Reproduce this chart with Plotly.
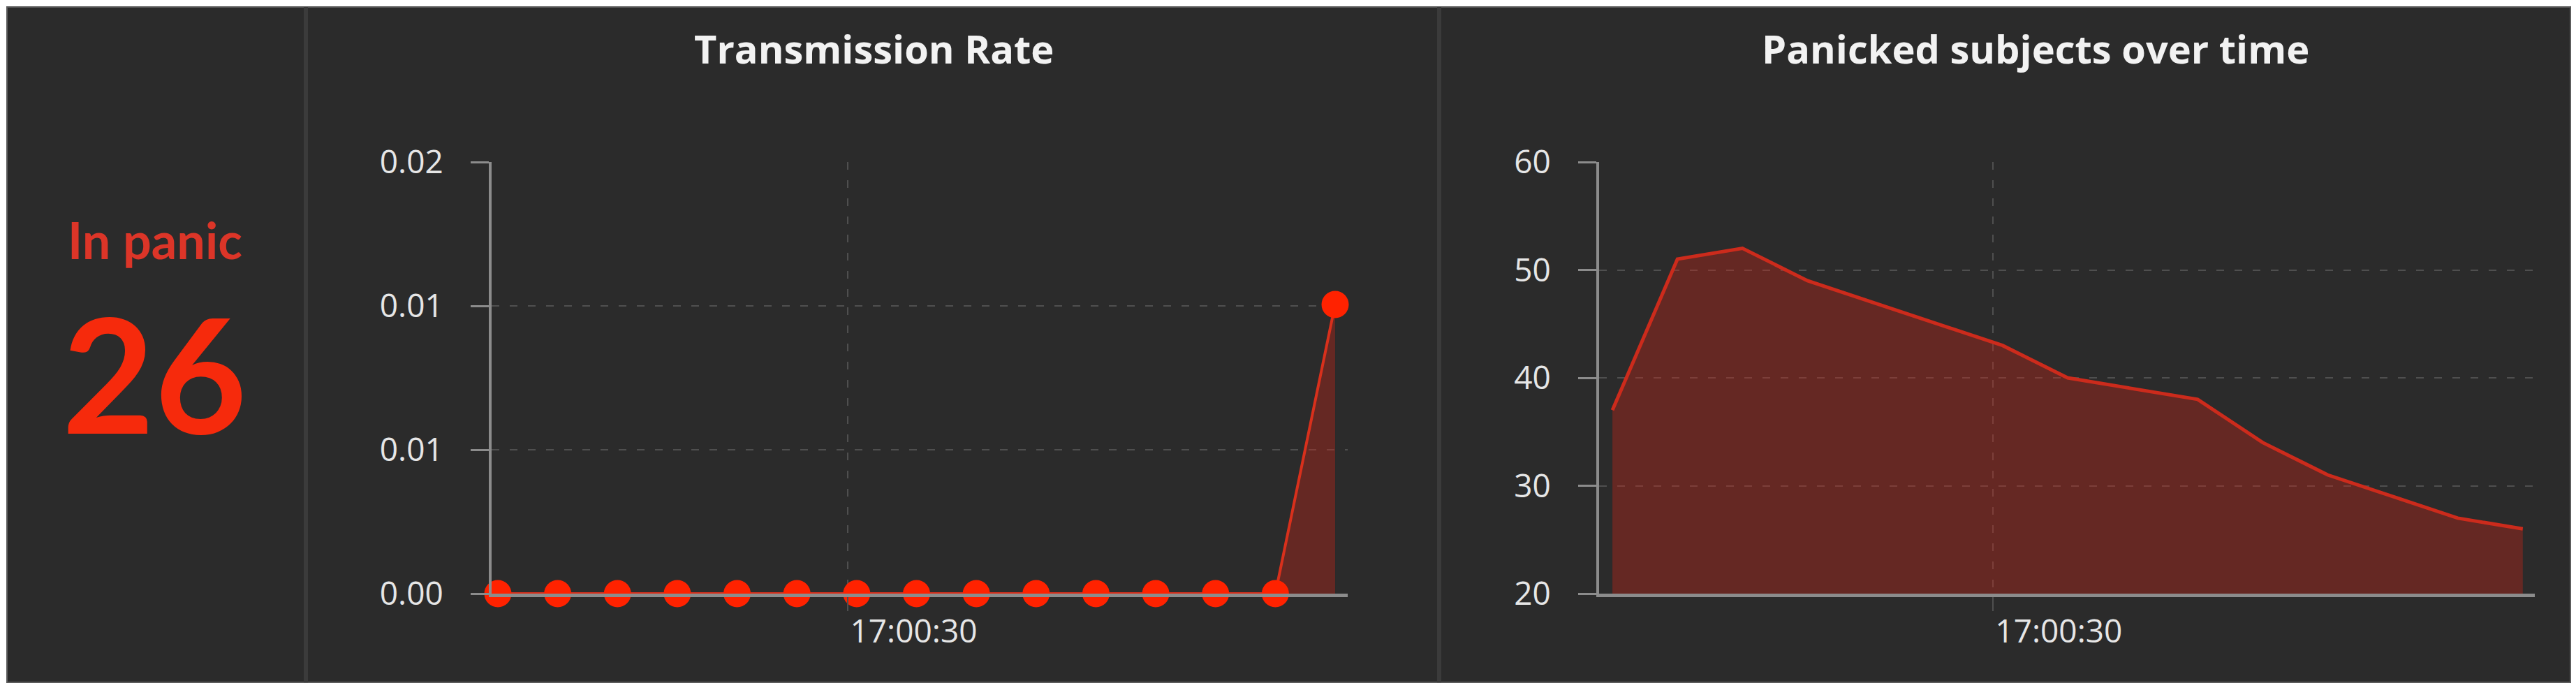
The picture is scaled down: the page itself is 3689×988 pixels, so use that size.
import plotly.graph_objects as go

W, H = 3689, 988

# sample times (2 s apart) shared by both charts
times = [
    "2024-05-10 17:00:18.3", "2024-05-10 17:00:20.3", "2024-05-10 17:00:22.3",
    "2024-05-10 17:00:24.3", "2024-05-10 17:00:26.3", "2024-05-10 17:00:28.3",
    "2024-05-10 17:00:30.3", "2024-05-10 17:00:32.3", "2024-05-10 17:00:34.3",
    "2024-05-10 17:00:36.3", "2024-05-10 17:00:38.3", "2024-05-10 17:00:40.3",
    "2024-05-10 17:00:42.3", "2024-05-10 17:00:44.3", "2024-05-10 17:00:46.3",
]
transmission_rate = [0, 0, 0, 0, 0, 0, 0, 0, 0, 0, 0, 0, 0, 0, 0.0134]
panicked = [37, 51, 52, 49, 47, 45, 43, 40, 39, 38, 34, 31, 29, 27, 26]

rate_ticks = [0, 0.02 / 3, 0.04 / 3, 0.02]
rate_tick_labels = ["0.00", "0.01", "0.01", "0.02"]
panic_ticks = [20, 30, 40, 50, 60]
time_ticks = ["2024-05-10 17:00:30"]
time_tick_labels = ["17:00:30"]

BG = "#2b2b2b"
GRID = "#4f4f4f"
AXIS = "#8c8c8c"
TXT = "#e6e6e6"
FILL = "rgba(205,35,22,0.36)"


def px(x):
    return x / W


def py(y):
    return 1 - y / H


fig = go.Figure()

# transmission rate: line + fill under the axis line, dots drawn on top
fig.add_trace(go.Scatter(
    x=times, y=transmission_rate, mode="lines",
    line=dict(color="#d8301c", width=4),
    fill="tozeroy", fillcolor=FILL,
    xaxis="x", yaxis="y", showlegend=False, hoverinfo="skip",
))
fig.add_trace(go.Scatter(
    x=times, y=transmission_rate, mode="markers",
    marker=dict(color="#ff2200", size=39),
    cliponaxis=False,
    xaxis="x3", yaxis="y3", showlegend=False,
))

# panicked subjects over time
fig.add_trace(go.Scatter(
    x=times, y=panicked, mode="lines",
    line=dict(color="#cc2b1c", width=5),
    fill="tozeroy", fillcolor=FILL,
    xaxis="x2", yaxis="y2", showlegend=False,
))

tick_font = dict(family="Open Sans", size=46, color=TXT)
grid = dict(showgrid=True, gridcolor=GRID, gridwidth=2, griddash="11px,15px")

xcommon = dict(
    type="date", tickmode="array", tickvals=time_ticks, ticktext=time_tick_labels,
    showline=True, linecolor=AXIS, linewidth=5,
    ticks="outside", ticklen=20, tickwidth=2, tickcolor=GRID,
    ticklabelposition="outside right", ticklabelstandoff=10,
    tickfont=tick_font, zeroline=False, fixedrange=True, automargin=False, **grid,
)
ycommon = dict(
    tickmode="array", showline=True, linecolor=AXIS, linewidth=4,
    ticks="outside", ticklen=26, tickwidth=3, tickcolor=AXIS,
    ticklabelstandoff=30, tickfont=tick_font, zeroline=False, fixedrange=True,
    automargin=False, **grid,
)

x1_range = ["2024-05-10 17:00:18.09", "2024-05-10 17:00:46.72"]
x2_range = ["2024-05-10 17:00:17.89", "2024-05-10 17:00:46.67"]
x1_dom = [px(704), px(1930)]
x2_dom = [px(2290), px(3630)]
y_dom = [py(850), py(232)]

fig.update_layout(
    width=W, height=H, autosize=False,
    margin=dict(l=0, r=0, t=0, b=0, pad=0, autoexpand=False),
    paper_bgcolor="white", plot_bgcolor="rgba(0,0,0,0)",
    xaxis=dict(domain=x1_dom, range=x1_range, anchor="y", layer="above traces", **xcommon),
    yaxis=dict(domain=y_dom, range=[0, 0.02], anchor="x", tickvals=rate_ticks,
               ticktext=rate_tick_labels, **ycommon),
    xaxis3=dict(overlaying="x", range=x1_range, type="date", visible=False,
                fixedrange=True, automargin=False),
    yaxis3=dict(overlaying="y", range=[0, 0.02], visible=False,
                fixedrange=True, automargin=False),
    xaxis2=dict(domain=x2_dom, range=x2_range, anchor="y2", **xcommon),
    yaxis2=dict(domain=y_dom, range=[20, 60], anchor="x2", tickvals=panic_ticks, **ycommon),
    shapes=[
        dict(type="rect", xref="paper", yref="paper", layer="below",
             x0=px(10), x1=px(3681), y0=py(977), y1=py(10),
             fillcolor=BG, line=dict(color="#5c5c5c", width=2)),
        dict(type="line", xref="paper", yref="paper", layer="below",
             x0=px(438), x1=px(438), y0=py(977), y1=py(10),
             line=dict(color="#3b3b3b", width=6)),
        dict(type="line", xref="paper", yref="paper", layer="below",
             x0=px(2061), x1=px(2061), y0=py(977), y1=py(10),
             line=dict(color="#3b3b3b", width=6)),
    ],
    annotations=[
        dict(text="Transmission Rate", xref="paper", yref="paper",
             x=px(1251), y=py(69), showarrow=False, xanchor="center", yanchor="middle",
             font=dict(family="Open Sans", size=56, color="#f2f2f2", weight=700)),
        dict(text="Panicked subjects over time", xref="paper", yref="paper",
             x=px(2915), y=py(69), showarrow=False, xanchor="center", yanchor="middle",
             font=dict(family="Open Sans", size=56, color="#f2f2f2", weight=700)),
        dict(text="In panic", xref="paper", yref="paper",
             x=px(222), y=py(343), showarrow=False, xanchor="center", yanchor="middle",
             font=dict(family="Lato", size=72, color="#dc3528", weight="bold")),
        dict(text=str(panicked[-1]), xref="paper", yref="paper",
             x=px(221), y=py(533), showarrow=False, xanchor="center", yanchor="middle",
             font=dict(family="Lato", size=228, color="#f62a0c", weight="bold")),
    ],
)

fig.write_html("out.html", config={"displayModeBar": False},
               post_script="document.body.style.margin='0px';")
